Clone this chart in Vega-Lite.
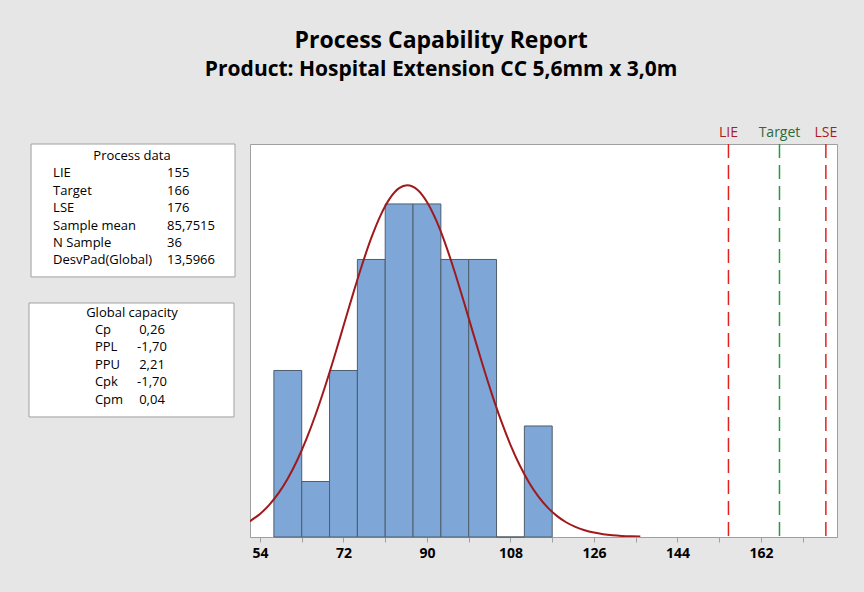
{
  "$schema": "https://vega.github.io/schema/vega-lite/v6.json",
  "background": "#e6e6e6",
  "padding": {"left": 28, "top": 29, "right": 26, "bottom": 34},
  "title": {
    "text": "Process Capability Report",
    "subtitle": "Product: Hospital Extension CC 5,6mm x 3,0m",
    "font": "Open Sans",
    "fontSize": 23,
    "fontWeight": "bold",
    "color": "#000000",
    "subtitleFont": "Open Sans",
    "subtitleFontSize": 21,
    "subtitleFontWeight": "bold",
    "subtitleColor": "#000000",
    "subtitlePadding": 6,
    "anchor": "middle",
    "dx": 8,
    "offset": 46
  },
  "config": {
    "font": "Open Sans",
    "view": {"stroke": "#a0a0a0"}
  },
  "spacing": 13,
  "hconcat": [
    {
      "width": 206,
      "height": 393,
      "view": {"stroke": null, "fill": null},
      "layer": [
        {
          "data": {"values": [
            {"box": "Process data", "left": 1, "right": 100, "top": -0.69, "bottom": 6.95},
            {"box": "Global capacity", "left": 0, "right": 99.5, "top": 8.45, "bottom": 15.0}
          ]},
          "mark": {"type": "rect", "fill": "#ffffff", "stroke": "#a0a0a0", "strokeWidth": 1},
          "encoding": {
            "x": {"field": "left", "type": "quantitative", "scale": {"domain": [0, 100], "nice": false, "zero": false}, "axis": null},
            "x2": {"field": "right"},
            "y": {"field": "top", "type": "quantitative", "scale": {"domain": [-0.69, 21.9], "nice": false, "zero": false, "reverse": true}, "axis": null},
            "y2": {"field": "bottom"}
          }
        },
        {
          "data": {"values": [
            {"line": 0, "text": "Process data"},
            {"line": 9, "text": "Global capacity"}
          ]},
          "mark": {"type": "text", "align": "center", "baseline": "middle", "fontSize": 13, "color": "#000000"},
          "encoding": {
            "x": {"datum": 50, "type": "quantitative"},
            "y": {"field": "line", "type": "quantitative"},
            "text": {"field": "text"}
          }
        },
        {
          "data": {"values": [
            {"line": 1, "label": "LIE", "value": "155"},
            {"line": 2, "label": "Target", "value": "166"},
            {"line": 3, "label": "LSE", "value": "176"},
            {"line": 4, "label": "Sample mean", "value": "85,7515"},
            {"line": 5, "label": "N Sample", "value": "36"},
            {"line": 6, "label": "DesvPad(Global)", "value": "13,5966"}
          ]},
          "layer": [
            {
              "mark": {"type": "text", "align": "left", "baseline": "middle", "fontSize": 13, "color": "#000000"},
              "encoding": {
                "x": {"datum": 11.7, "type": "quantitative"},
                "y": {"field": "line", "type": "quantitative"},
                "text": {"field": "label"}
              }
            },
            {
              "mark": {"type": "text", "align": "left", "baseline": "middle", "fontSize": 13, "color": "#000000"},
              "encoding": {
                "x": {"datum": 67, "type": "quantitative"},
                "y": {"field": "line", "type": "quantitative"},
                "text": {"field": "value"}
              }
            }
          ]
        },
        {
          "data": {"values": [
            {"line": 10, "label": "Cp", "value": "0,26"},
            {"line": 11, "label": "PPL", "value": "-1,70"},
            {"line": 12, "label": "PPU", "value": "2,21"},
            {"line": 13, "label": "Cpk", "value": "-1,70"},
            {"line": 14, "label": "Cpm", "value": "0,04"}
          ]},
          "layer": [
            {
              "mark": {"type": "text", "align": "left", "baseline": "middle", "fontSize": 13, "color": "#000000"},
              "encoding": {
                "x": {"datum": 32, "type": "quantitative"},
                "y": {"field": "line", "type": "quantitative"},
                "text": {"field": "label"}
              }
            },
            {
              "mark": {"type": "text", "align": "center", "baseline": "middle", "fontSize": 13, "color": "#000000"},
              "encoding": {
                "x": {"datum": 59.7, "type": "quantitative"},
                "y": {"field": "line", "type": "quantitative"},
                "text": {"field": "value"}
              }
            }
          ]
        }
      ]
    },
    {
      "width": 587,
      "height": 393,
      "view": {"stroke": "#a0a0a0", "fill": "#ffffff"},
      "layer": [
        {
          "data": {"values": [
            {"lo": 57, "hi": 63, "n": 3},
            {"lo": 63, "hi": 69, "n": 1},
            {"lo": 69, "hi": 75, "n": 3},
            {"lo": 75, "hi": 81, "n": 5},
            {"lo": 81, "hi": 87, "n": 6},
            {"lo": 87, "hi": 93, "n": 6},
            {"lo": 93, "hi": 99, "n": 5},
            {"lo": 99, "hi": 105, "n": 5},
            {"lo": 105, "hi": 111, "n": 0},
            {"lo": 111, "hi": 117, "n": 2}
          ]},
          "mark": {"type": "rect", "fill": "#7ea7d8", "stroke": "#4f5d6b", "strokeWidth": 1},
          "encoding": {
            "x": {"field": "lo", "type": "quantitative",
                  "scale": {"domain": [51.85, 178.4], "nice": false, "zero": false},
                  "axis": {
                    "title": null,
                    "values": [54, 63, 72, 81, 90, 99, 108, 117, 126, 135, 144, 153, 162, 171],
                    "labelExpr": "datum.value % 18 == 0 ? datum.label : ''",
                    "labelFont": "Open Sans",
                    "labelFontSize": 14,
                    "labelFontWeight": "bold",
                    "labelColor": "#000000",
                    "labelPadding": 4,
                    "tickColor": "#a0a0a0",
                    "tickSize": 5,
                    "domainColor": "#a0a0a0",
                    "grid": false
                  }},
            "x2": {"field": "hi"},
            "y": {"field": "n", "type": "quantitative", "scale": {"domain": [0, 7.08], "nice": false}, "axis": null},
            "y2": {"datum": 0}
          }
        },
        {
          "data": {"values": [
            {"x": 51.85, "y": 0.2806}, {"x": 52, "y": 0.2910}, {"x": 54, "y": 0.4147}, {"x": 56, "y": 0.5785},
            {"x": 58, "y": 0.7895}, {"x": 60, "y": 1.0545}, {"x": 62, "y": 1.3781}, {"x": 64, "y": 1.7627},
            {"x": 66, "y": 2.2065}, {"x": 68, "y": 2.7025}, {"x": 70, "y": 3.2395}, {"x": 72, "y": 3.8002},
            {"x": 74, "y": 4.3623}, {"x": 76, "y": 4.9005}, {"x": 78, "y": 5.3871}, {"x": 80, "y": 5.7953},
            {"x": 82, "y": 6.1010}, {"x": 84, "y": 6.2853}, {"x": 85.75, "y": 6.3377}, {"x": 88, "y": 6.2516},
            {"x": 90, "y": 6.0357}, {"x": 92, "y": 5.7026}, {"x": 94, "y": 5.2725}, {"x": 96, "y": 4.7707},
            {"x": 98, "y": 4.2237}, {"x": 100, "y": 3.6599}, {"x": 102, "y": 3.1031}, {"x": 104, "y": 2.5750},
            {"x": 106, "y": 2.0909}, {"x": 108, "y": 1.6614}, {"x": 110, "y": 1.2921}, {"x": 112, "y": 0.9832},
            {"x": 114, "y": 0.7324}, {"x": 116, "y": 0.5335}, {"x": 118, "y": 0.3806}, {"x": 120, "y": 0.2656},
            {"x": 122, "y": 0.1813}, {"x": 124, "y": 0.1212}, {"x": 126, "y": 0.0793}, {"x": 128, "y": 0.0508},
            {"x": 130, "y": 0.0318}, {"x": 132, "y": 0.0195}, {"x": 134, "y": 0.0117}, {"x": 136, "y": 0.0069}
          ]},
          "mark": {"type": "line", "color": "#a0191c", "strokeWidth": 2, "interpolate": "monotone", "clip": true},
          "encoding": {
            "x": {"field": "x", "type": "quantitative"},
            "y": {"field": "y", "type": "quantitative"}
          }
        },
        {
          "data": {"values": [
            {"name": "LIE", "spec": 155},
            {"name": "Target", "spec": 166},
            {"name": "LSE", "spec": 176}
          ]},
          "layer": [
            {
              "mark": {"type": "rule", "strokeDash": [14, 7], "strokeWidth": 1.5},
              "encoding": {
                "x": {"field": "spec", "type": "quantitative"},
                "color": {"field": "name", "type": "nominal", "scale": {"domain": ["LIE", "Target", "LSE"], "range": ["#e0221f", "#239a3c", "#e0221f"]}, "legend": null}
              }
            },
            {
              "mark": {"type": "text", "baseline": "bottom", "align": "center", "dy": -4, "fontSize": 14},
              "encoding": {
                "x": {"field": "spec", "type": "quantitative"},
                "y": {"datum": 7.08, "type": "quantitative"},
                "text": {"field": "name"},
                "color": {"field": "name", "type": "nominal", "scale": {"domain": ["LIE", "Target", "LSE"], "range": ["#a61c22", "#2d6a3a", "#a61c22"]}, "legend": null}
              }
            }
          ],
          "resolve": {"scale": {"color": "independent"}}
        }
      ],
      "resolve": {"scale": {"color": "independent"}}
    }
  ]
}
